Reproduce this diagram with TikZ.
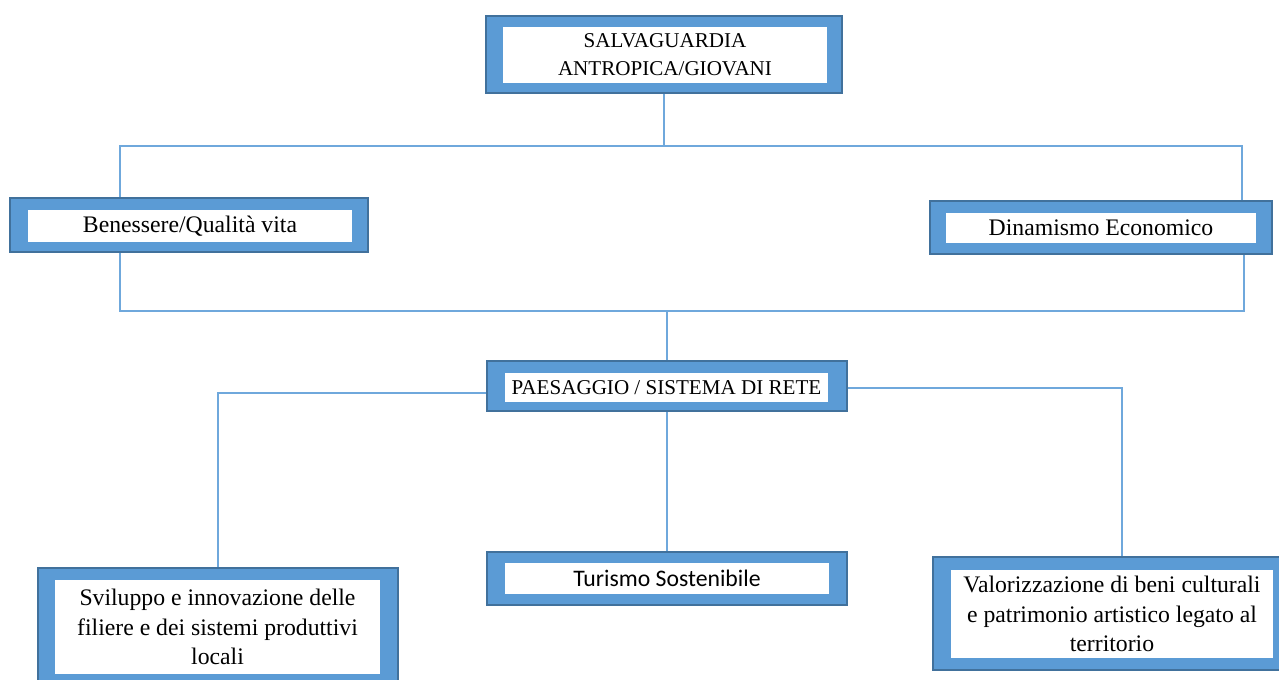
\documentclass[tikz,border=0pt]{standalone}
\usepackage{fontspec}
\setmainfont{Liberation Serif}
\newfontfamily\calibrifont{Carlito}
\usetikzlibrary{calc}

\definecolor{boxblue}{HTML}{5B9BD5}
\definecolor{boxedge}{HTML}{41719C}
\definecolor{linkblue}{HTML}{6FA8DC}

\begin{document}
\begin{tikzpicture}[x=0.02cm, y=-0.02cm,
    frame/.style={draw=boxedge, line width=1.1pt, fill=boxblue, inner sep=0pt},
    card/.style={fill=white, inner sep=0pt, align=center, font=\fontsize{13.5}{17}\selectfont},
    capcard/.style={card, font=\fontsize{12}{16}\selectfont},
    link/.style={draw=linkblue, line width=0.7pt}]
  \useasboundingbox (0,0) rectangle (1279,680);

  %%%%% BOXES %%%%%
  \node[frame, minimum width=7.12cm, minimum height=1.54cm] (top) at (664,54.5) {};
  \node[capcard, minimum width=6.48cm, minimum height=1.12cm] (topin) at (665,55) {SALVAGUARDIA\\ANTROPICA/GIOVANI};

  \node[frame, minimum width=7.16cm, minimum height=1.08cm] (ben) at (189,225) {};
  \node[card, minimum width=6.48cm, minimum height=0.64cm] (benin) at (190,226) {Benessere/Qualità vita};

  \node[frame, minimum width=6.84cm, minimum height=1.06cm] (din) at (1101,227.5) {};
  \node[card, minimum width=6.2cm, minimum height=0.6cm] (dinin) at (1101,228) {Dinamismo Economico};

  \node[frame, minimum width=7.2cm, minimum height=1.0cm] (pae) at (667,386) {};
  \node[capcard, minimum width=6.46cm, minimum height=0.58cm] (paein) at (666.5,387.5) {PAESAGGIO / SISTEMA DI RETE};

  \node[frame, minimum width=7.2cm, minimum height=2.36cm] (svi) at (218,627) {};
  \node[card, minimum width=6.5cm, minimum height=1.88cm] (sviin) at (217.5,627) {Sviluppo e innovazione delle\\filiere e dei sistemi produttivi\\locali};

  \node[frame, minimum width=7.2cm, minimum height=1.06cm] (tur) at (667,578.5) {};
  \node[card, font=\calibrifont\fontsize{13.5}{17}\selectfont, minimum width=6.5cm, minimum height=0.62cm] (turin) at (667,578.5) {Turismo Sostenibile};

  \node[frame, minimum width=7.16cm, minimum height=2.26cm] (val) at (1112,613.5) {};
  \node[card, minimum width=6.44cm, minimum height=1.76cm] (valin) at (1112,614) {Valorizzazione di beni culturali\\e patrimonio artistico legato al\\territorio};

  %%%%% LINKS %%%%%
  \coordinate (busL) at (120,146);
  \coordinate (busR) at (1242,146);
  \draw[link] (top.south) -- (top.south |- busL);
  \draw[link] (busL |- ben.north) -- (busL) -- (busR) -- (busR |- din.north);

  \coordinate (busL2) at (120,311);
  \coordinate (busR2) at (1244,311);
  \draw[link] (busL2 |- ben.south) -- (busL2) -- (busR2) -- (busR2 |- din.south);
  \draw[link] (pae.north) -- (pae.north |- busL2);

  \draw[link] ([yshift=-0.14cm]pae.west) -| (svi.north);
  \draw[link] ([yshift=-0.04cm]pae.east) -| ([xshift=0.2cm]val.north);
  \draw[link] (pae.south) -- (tur.north);
\end{tikzpicture}
\end{document}
